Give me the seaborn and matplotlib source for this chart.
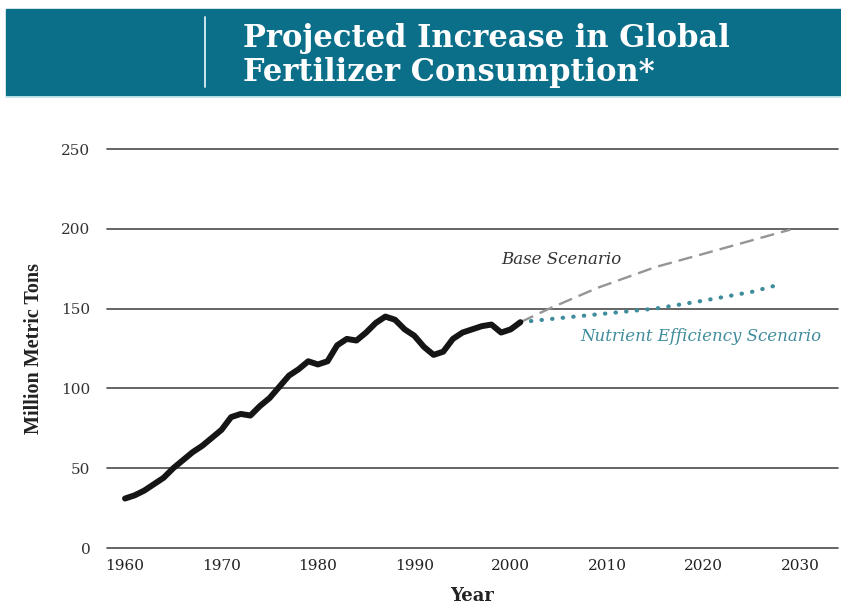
import matplotlib
matplotlib.use("Agg")
import matplotlib.pyplot as plt
import seaborn as sns
import pandas as pd
from matplotlib.patches import Rectangle
from matplotlib.lines import Line2D

# ---- data ----
hist_years = list(range(1960, 2002))
hist_values = [31, 33, 36, 40, 44, 50, 55, 60, 64, 69,
               74, 82, 84, 83, 89, 94, 101, 108, 112, 117,
               115, 117, 127, 131, 130, 135, 141, 145, 143, 137,
               133, 126, 121, 123, 131, 135, 137, 139, 140, 135,
               137, 141.5]

base_years = [2001, 2004, 2009, 2015, 2021, 2029]
base_values = [141.5, 150, 163, 176, 186, 199.5]

eff_years = [2001, 2005, 2010, 2015, 2020, 2025, 2027.5]
eff_values = [141.5, 144, 147, 150, 155, 160.5, 164.5]

x_ticks = [1960, 1970, 1980, 1990, 2000, 2010, 2020, 2030]
y_ticks = [0, 50, 100, 150, 200, 250]

title_lines = ["Projected Increase in Global", "Fertilizer Consumption*"]
x_label = "Year"
y_label = "Million Metric Tons"
base_label = "Base Scenario"
eff_label = "Nutrient Efficiency Scenario"

# ---- figure ----
sns.set_theme(style="white")
plt.rcParams['font.family'] = ['DejaVu Serif']

W, H = 841, 610
fig = plt.figure(figsize=(W / 100, H / 100), dpi=100)

# header band
band_col = "#0b6f8a"
fig.patches.append(Rectangle((6 / W, 1 - 95 / H), 1 - 6 / W, 86 / H,
                             transform=fig.transFigure, color=band_col, zorder=0))
fig.lines.append(Line2D([6 / W, 1], [1 - 96.5 / H, 1 - 96.5 / H],
                        transform=fig.transFigure, color="#b7dde6", lw=1.2))
fig.lines.append(Line2D([205 / W, 205 / W], [1 - 17 / H, 1 - 87 / H],
                        transform=fig.transFigure, color="#dceff3", lw=1.3))
fig.text(243 / W, 1 - 39 / H, title_lines[0], color="white", fontsize=22,
         fontweight="bold", family="DejaVu Serif", va="center", ha="left")
fig.text(243 / W, 1 - 72 / H, title_lines[1], color="white", fontsize=22,
         fontweight="bold", family="DejaVu Serif", va="center", ha="left")

ax = fig.add_axes([107 / W, (H - 548) / H, 731 / W, 399 / H])

hist_df = pd.DataFrame({"year": hist_years, "value": hist_values})
base_df = pd.DataFrame({"year": base_years, "value": base_values})
eff_df = pd.DataFrame({"year": eff_years, "value": eff_values})

sns.lineplot(data=base_df, x="year", y="value", ax=ax, color="#959595",
             lw=1.7, linestyle=(0, (6, 3)), zorder=3)
sns.lineplot(data=eff_df, x="year", y="value", ax=ax, color="#3f8c9c",
             lw=3.0, linestyle=(0, (0.1, 2.45)), dash_capstyle="round", zorder=3)
sns.lineplot(data=hist_df, x="year", y="value", ax=ax, color="#151515",
             lw=4.3, zorder=4)
hl = ax.lines[-1]
hl.set_solid_joinstyle("round")
hl.set_solid_capstyle("round")

ax.set_xlim(1958.13, 2033.94)
ax.set_ylim(0, 250)
ax.set_xticks(x_ticks)
ax.set_yticks(y_ticks)
ax.set_xticklabels([str(t) for t in x_ticks], fontsize=11, color="#222222",
                   family="DejaVu Serif")
ax.set_yticklabels([str(t) for t in y_ticks], fontsize=11, color="#333333",
                   family="DejaVu Serif")
ax.tick_params(axis="both", length=0)
ax.tick_params(axis="x", pad=8)
ax.tick_params(axis="y", pad=12)
for s in ax.spines.values():
    s.set_visible(False)
ax.yaxis.grid(True, color="#4a4a4a", lw=1.2)
ax.xaxis.grid(False)
ax.set_axisbelow(True)
for gl in ax.get_ygridlines():
    gl.set_clip_on(False)
ax.set_xlabel(x_label, fontsize=13, fontweight="bold", family="DejaVu Serif",
              labelpad=10, color="#222222")
ax.set_ylabel(y_label, fontsize=14.5, fontweight="bold", family="Liberation Serif",
              labelpad=12, color="#222222")

ax.text(2005.3, 181, base_label, fontsize=12, style="italic",
        family="DejaVu Serif", color="#333333", ha="center", va="center")
ax.text(2019.7, 132.5, eff_label, fontsize=12, style="italic",
        family="DejaVu Serif", color="#3f8c9c", ha="center", va="center")

fig.savefig("out.png", dpi=100)
